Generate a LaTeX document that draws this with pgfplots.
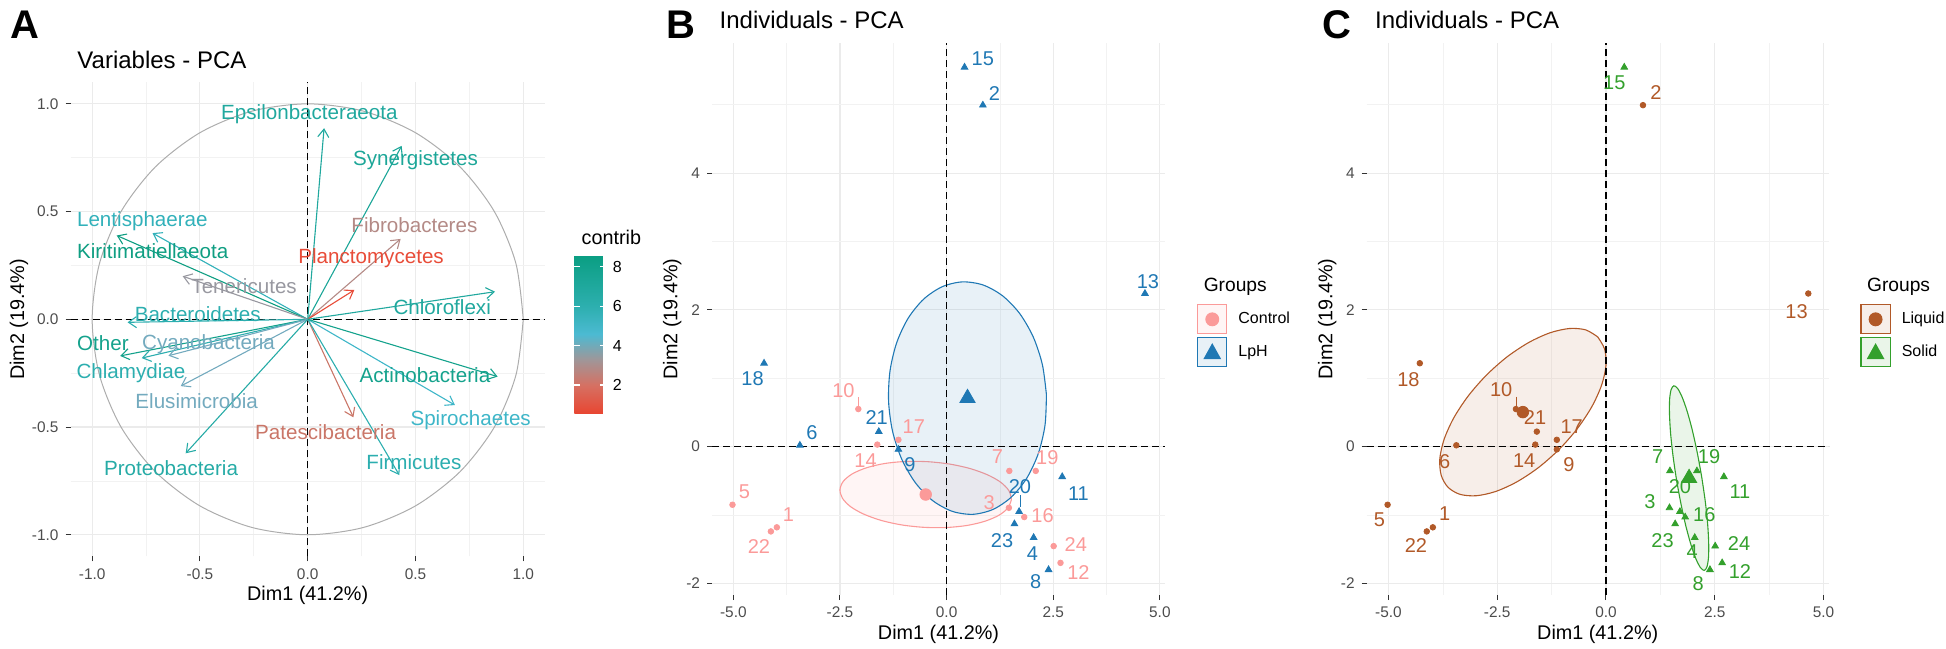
\documentclass[border=0pt]{standalone}
\usepackage{pgfplots}
\usepackage{pgfplotstable}
\pgfplotsset{compat=1.18}
\usepackage{fontspec}
\setmainfont{Liberation Sans}
\usetikzlibrary{arrows.meta}

\definecolor{ctrl}{HTML}{FB9A99}
\definecolor{lph}{HTML}{1F78B4}
\definecolor{liq}{HTML}{B15928}
\definecolor{sol}{HTML}{33A02C}
\definecolor{c85}{RGB}{15,158,130}
\definecolor{c78}{RGB}{20,162,140}
\definecolor{c70}{RGB}{28,166,152}
\definecolor{c66}{RGB}{32,168,158}
\definecolor{c62}{RGB}{38,171,166}
\definecolor{c59}{RGB}{44,174,175}
\definecolor{c56}{RGB}{50,177,186}
\definecolor{c52}{RGB}{62,182,200}
\definecolor{c43}{RGB}{115,170,190}
\definecolor{c36}{RGB}{152,152,160}
\definecolor{c28}{RGB}{180,138,134}
\definecolor{c22}{RGB}{202,118,104}
\definecolor{c08}{RGB}{232,76,56}

\newcommand\vl{\fontsize{10.3}{11}\selectfont}
\newcommand\pl{\fontsize{10}{11}\selectfont}

% Panel B / C individuals: x y lx ly lab
\pgfplotstableread{
x y lx ly lab
-2.07 0.55 -2.42 0.82 10
-1.625 0.03 -1.90 -0.21 14
-1.13 0.10 -0.77 0.29 17
-5.02 -0.85 -4.74 -0.66 5
-3.98 -1.18 -3.71 -0.99 1
-4.12 -1.24 -4.40 -1.455 22
1.47 -0.355 1.19 -0.146 7
2.09 -0.355 2.36 -0.165 19
1.46 -0.895 1.00 -0.82 3
1.82 -1.03 2.25 -1.01 16
2.51 -1.455 3.03 -1.435 24
2.67 -1.70 3.09 -1.84 12
}\ctrlB
\pgfplotstableread{
x y lx ly lab
-4.28 1.22 -4.55 0.99 18
-3.44 0.02 -3.16 0.21 6
-1.59 0.22 -1.64 0.42 21
-1.13 -0.04 -0.86 -0.26 9
1.70 -0.95 1.72 -0.58 20
1.59 -1.13 1.30 -1.38 23
2.04 -1.33 2.01 -1.57 4
2.39 -1.80 2.09 -1.98 8
2.71 -0.44 3.09 -0.68 11
0.42 5.55 0.85 5.67 15
0.85 4.995 1.12 5.17 2
4.65 2.24 4.72 2.42 13
}\lphB
\pgfplotstableread{
x y lx ly lab
0.85 4.995 1.15 5.18 2
4.65 2.24 4.38 1.97 13
-4.28 1.22 -4.54 0.98 18
-2.07 0.55 -2.41 0.83 10
-1.59 0.22 -1.63 0.42 21
-1.13 0.10 -0.79 0.29 17
-3.44 0.02 -3.71 -0.22 6
-1.625 0.03 -1.88 -0.20 14
-1.13 -0.04 -0.85 -0.27 9
-5.02 -0.85 -5.21 -1.07 5
-3.98 -1.18 -3.71 -0.98 1
-4.12 -1.24 -4.37 -1.45 22
}\liqC
\pgfplotstableread{
x y lx ly lab
0.42 5.55 0.19 5.32 15
1.47 -0.355 1.19 -0.15 7
2.09 -0.355 2.37 -0.15 19
1.70 -0.95 1.70 -0.58 20
2.71 -0.44 3.08 -0.66 11
1.46 -0.895 1.01 -0.81 3
1.82 -1.03 2.26 -0.99 16
1.59 -1.13 1.30 -1.37 23
2.04 -1.33 1.98 -1.53 4
2.51 -1.455 3.06 -1.41 24
2.67 -1.70 3.08 -1.83 12
2.39 -1.80 2.12 -2.00 8
}\solC

\pgfplotsset{
  ggbase/.style={
    scale only axis, anchor=south west, clip=false,
    axis line style={draw=none},
    tick align=outside, tick pos=left,
    major tick length=2.5pt, minor tick length=0pt,
    tick style={line width=0.5pt, color=black!80},
    grid=both,
    major grid style={line width=0.55pt, color=black!8},
    minor grid style={line width=0.35pt, color=black!5},
    tick label style={font=\fontsize{7.7}{8}\selectfont, text=black!70},
    label style={font=\fontsize{9.9}{11}\selectfont},
  },
  indiv/.style={
    ggbase,
    xmin=-5.5, xmax=5.12, ymin=-2.17, ymax=5.9,
    xtick={-5,-2.5,0,2.5,5}, xticklabels={-5.0,-2.5,0.0,2.5,5.0},
    ytick={-2,0,2,4}, yticklabels={-2,0,2,4},
    minor xtick={-3.75,-1.25,1.25,3.75}, minor ytick={-1,1,3,5},
    xlabel={Dim1 (41.2\%)}, ylabel={Dim2 (19.4\%)},
    legend style={draw=none, fill=none, inner sep=0pt, row sep=1.5pt,
      font=\fontsize{8}{9}\selectfont, nodes={inner xsep=5.5pt, inner ysep=0pt}},
    legend cell align=left,
  },
  zeroline/.style={black, line width=0.75pt, dash pattern=on 3.5pt off 2pt, forget plot},
  arr/.style={line width=0.55pt, -{Straight Barb[length=4pt,width=5.5pt]}},
  lbl/.style={forget plot, only marks, mark=none, nodes near coords,
    point meta=explicit symbolic, nodes near coords align=center,
    every node near coord/.append style={anchor=center, inner sep=0pt, font=\pl, text=#1}},
}

\begin{document}
\begin{tikzpicture}
\useasboundingbox (0,0) rectangle (973pt,324pt);

% ---------------- Panel A ----------------
\node[anchor=base west, font=\fontsize{20}{20}\selectfont\bfseries] at (1.8pt,304.85pt) {A};
\node[anchor=base west, font=\fontsize{12}{13}\selectfont] at (35.2pt,289.85pt) {Variables - PCA};
\node[anchor=base west, font=\fontsize{9.9}{11}\selectfont] at (287.3pt,201.5pt) {contrib};
\begin{axis}[ggbase,
  at={(35.3pt,45.85pt)}, width=237.1pt, height=237pt,
  xmin=-1.1, xmax=1.1, ymin=-1.1, ymax=1.1,
  xtick={-1,-0.5,0,0.5,1}, xticklabels={-1.0,-0.5,0.0,0.5,1.0},
  ytick={-1,-0.5,0,0.5,1}, yticklabels={-1.0,-0.5,0.0,0.5,1.0},
  minor xtick={-0.75,-0.25,0.25,0.75}, minor ytick={-0.75,-0.25,0.25,0.75},
  xlabel={Dim1 (41.2\%)}, ylabel={Dim2 (19.4\%)},
  xlabel style={at={(axis description cs:0.5,-0.0823)}, anchor=center},
  ylabel style={at={(axis description cs:-0.1088,0.5)}, anchor=center},
  colormap={contrib}{rgb255(0cm)=(232,70,50); rgb255(14cm)=(214,112,98); rgb255(27cm)=(160,150,152); rgb255(40cm)=(76,186,210); rgb255(54cm)=(45,175,175); rgb255(80cm)=(10,158,130)},
  colorbar, point meta min=0.56, point meta max=8.6,
  colorbar shift/.style={xshift=14.75pt, yshift=71.5pt},
  colorbar style={
    at={(parent axis.south east)}, anchor=south west,
    width=15.7pt, height=79.15pt,
    ytick={2,4,6,8}, yticklabels={2,4,6,8},
    axis line style={draw=none},
    tick align=inside, ytick pos=both, yticklabel pos=right,
    major tick length=3pt, tick style={white, line width=0.6pt},
    yticklabel style={font=\fontsize{8}{9}\selectfont, text=black},
  },
]
% unit circle
\addplot[black!32, line width=0.5pt, smooth] coordinates {(1,0) (0.966,0.259) (0.866,0.5) (0.707,0.707) (0.5,0.866) (0.259,0.966) (0,1) (-0.259,0.966) (-0.5,0.866) (-0.707,0.707) (-0.866,0.5) (-0.966,0.259) (-1,0) (-0.966,-0.259) (-0.866,-0.5) (-0.707,-0.707) (-0.5,-0.866) (-0.259,-0.966) (0,-1) (0.259,-0.966) (0.5,-0.866) (0.707,-0.707) (0.866,-0.5) (0.966,-0.259) (1,0)};
\addplot[zeroline] coordinates {(-1.1,0) (1.1,0)};
\addplot[zeroline] coordinates {(0,-1.1) (0,1.1)};
% arrows
\addplot[arr, c66] coordinates {(0,0) (0.076,0.887)};
\addplot[arr, c70] coordinates {(0,0) (0.436,0.805)};
\addplot[arr, c28] coordinates {(0,0) (0.431,0.373)};
\addplot[arr, c08] coordinates {(0,0) (0.216,0.136)};
\addplot[arr, c66] coordinates {(0,0) (0.869,0.128)};
\addplot[arr, c56] coordinates {(0,0) (-0.72,0.40)};
\addplot[arr, c85] coordinates {(0,0) (-0.886,0.389)};
\addplot[arr, c36] coordinates {(0,0) (-0.58,0.20)};
\addplot[arr, c59] coordinates {(0,0) (-0.836,-0.014)};
\addplot[arr, c78] coordinates {(0,0) (-0.87,-0.17)};
\addplot[arr, c59] coordinates {(0,0) (-0.77,-0.18)};
\addplot[arr, c43] coordinates {(0,0) (-0.646,-0.169)};
\addplot[arr, c43] coordinates {(0,0) (-0.589,-0.31)};
\addplot[arr, c62] coordinates {(0,0) (-0.566,-0.622)};
\addplot[arr, c22] coordinates {(0,0) (0.212,-0.455)};
\addplot[arr, c59] coordinates {(0,0) (0.425,-0.723)};
\addplot[arr, c52] coordinates {(0,0) (0.683,-0.398)};
\addplot[arr, c78] coordinates {(0,0) (0.881,-0.266)};
% labels
\node[text=c66, font=\vl] at (axis cs:0.008,0.952) {Epsilonbacteraeota};
\node[text=c70, font=\vl] at (axis cs:0.50,0.74) {Synergistetes};
\node[text=c28, font=\vl] at (axis cs:0.495,0.438) {Fibrobacteres};
\node[text=c08, font=\vl] at (axis cs:0.294,0.286) {Planctomycetes};
\node[text=c36, font=\vl] at (axis cs:-0.295,0.152) {Tenericutes};
\node[text=c66, font=\vl] at (axis cs:0.624,0.056) {Chloroflexi};
\node[text=c56, font=\vl] at (axis cs:-0.767,0.455) {Lentisphaerae};
\node[text=c85, font=\vl] at (axis cs:-0.719,0.317) {Kiritimatiellaeota};
\node[text=c59, font=\vl] at (axis cs:-0.51,0.025) {Bacteroidetes};
\node[text=c78, font=\vl] at (axis cs:-0.95,-0.111) {Other};
\node[text=c43, font=\vl] at (axis cs:-0.46,-0.116) {Cyanobacteria};
\node[text=c59, font=\vl] at (axis cs:-0.82,-0.25) {Chlamydiae};
\node[text=c43, font=\vl] at (axis cs:-0.515,-0.382) {Elusimicrobia};
\node[text=c62, font=\vl] at (axis cs:-0.634,-0.692) {Proteobacteria};
\node[text=c22, font=\vl] at (axis cs:0.083,-0.525) {Patescibacteria};
\node[text=c59, font=\vl] at (axis cs:0.493,-0.661) {Firmicutes};
\node[text=c52, font=\vl] at (axis cs:0.756,-0.467) {Spirochaetes};
\node[text=c78, font=\vl] at (axis cs:0.544,-0.259) {Actinobacteria};
\end{axis}

% ---------------- Panel B ----------------
\node[anchor=base west, font=\fontsize{20}{20}\selectfont\bfseries] at (329.5pt,304.85pt) {B};
\node[anchor=base west, font=\fontsize{12}{13}\selectfont] at (356.3pt,309.85pt) {Individuals - PCA};
\node[anchor=base west, font=\fontsize{9.6}{11}\selectfont] at (598.35pt,178.15pt) {Groups};
\begin{axis}[indiv,
  at={(356pt,26.5pt)}, width=226.5pt, height=275.85pt,
  xlabel style={at={(axis description cs:0.5,-0.0712)}, anchor=center},
  ylabel style={at={(axis description cs:-0.0879,0.5)}, anchor=center},
  legend style={at={(axis description cs:1.070,0.5275)}, anchor=north west},
]
\addplot[draw=ctrl, line width=0.55pt, fill=ctrl, fill opacity=0.1, draw opacity=1, smooth,
  legend image code/.code={\draw[draw=ctrl, line width=0.55pt, fill=ctrl, fill opacity=0.1, draw opacity=1] (0pt,-7.2pt) rectangle (14.6pt,7.2pt); \fill[ctrl, fill opacity=1] (7.3pt,0pt) circle (3.2pt);}]
  coordinates {(1.52,-0.773) (1.464,-0.647) (1.274,-0.523) (0.963,-0.413) (0.554,-0.321) (0.073,-0.255) (-0.445,-0.22) (-0.967,-0.217) (-1.456,-0.247) (-1.879,-0.309) (-2.208,-0.397) (-2.42,-0.505) (-2.50,-0.627) (-2.444,-0.753) (-2.254,-0.877) (-1.943,-0.987) (-1.534,-1.079) (-1.053,-1.145) (-0.535,-1.18) (-0.013,-1.183) (0.476,-1.153) (0.899,-1.091) (1.228,-1.003) (1.44,-0.895) (1.52,-0.773)};
\addlegendentry{Control}
\addplot[draw=lph, line width=0.55pt, fill=lph, fill opacity=0.1, draw opacity=1, smooth,
  legend image code/.code={\draw[draw=lph, line width=0.55pt, fill=lph, fill opacity=0.1, draw opacity=1] (0pt,-7.2pt) rectangle (14.6pt,7.2pt); \fill[lph, fill opacity=1] (7.3pt,4pt) -- (3.3pt,-3.2pt) -- (11.3pt,-3.2pt) -- cycle;}]
  coordinates {(2.34,0.76) (2.246,1.198) (2.032,1.603) (1.713,1.947) (1.311,2.207) (0.853,2.365) (0.37,2.41) (-0.105,2.339) (-0.539,2.157) (-0.903,1.877) (-1.172,1.517) (-1.328,1.102) (-1.36,0.66) (-1.266,0.222) (-1.052,-0.183) (-0.733,-0.527) (-0.331,-0.787) (0.127,-0.945) (0.61,-0.99) (1.085,-0.919) (1.519,-0.737) (1.883,-0.457) (2.152,-0.097) (2.308,0.318) (2.34,0.76)};
\addlegendentry{LpH}
\addplot[zeroline] coordinates {(-5.5,0) (5.12,0)};
\addplot[zeroline] coordinates {(0,-2.17) (0,5.9)};
\addplot[forget plot, ctrl, line width=0.4pt] coordinates {(-2.07,0.72) (-2.07,0.60)};
\addplot[forget plot, lph, line width=0.4pt] coordinates {(1.72,-0.71) (1.72,-0.89)};
\addplot[forget plot, only marks, mark=*, mark size=1.4pt, color=ctrl] table[x=x,y=y] {\ctrlB};
\addplot[forget plot, only marks, mark=triangle*, mark size=1.9pt, color=lph] table[x=x,y=y] {\lphB};
\addplot[forget plot, only marks, mark=*, mark size=2.9pt, color=ctrl] coordinates {(-0.49,-0.70)};
\addplot[forget plot, only marks, mark=triangle*, mark size=4.4pt, color=lph] coordinates {(0.49,0.71)};
\addplot[lbl=ctrl] table[x=lx,y=ly,meta=lab] {\ctrlB};
\addplot[lbl=lph] table[x=lx,y=ly,meta=lab] {\lphB};
\end{axis}

% ---------------- Panel C ----------------
\node[anchor=base west, font=\fontsize{20}{20}\selectfont\bfseries] at (657.5pt,304.85pt) {C};
\node[anchor=base west, font=\fontsize{12}{13}\selectfont] at (684pt,309.85pt) {Individuals - PCA};
\node[anchor=base west, font=\fontsize{9.6}{11}\selectfont] at (930pt,178.15pt) {Groups};
\begin{axis}[indiv,
  at={(683.35pt,26.5pt)}, width=231pt, height=275.85pt,
  xlabel style={at={(axis description cs:0.5,-0.0712)}, anchor=center},
  ylabel style={at={(axis description cs:-0.0853,0.5)}, anchor=center},
  legend style={at={(axis description cs:1.0678,0.5275)}, anchor=north west},
]
\addplot[draw=liq, line width=0.55pt, fill=liq, fill opacity=0.1, draw opacity=1, smooth,
  legend image code/.code={\draw[draw=liq, line width=0.55pt, fill=liq, fill opacity=0.1, draw opacity=1] (0pt,-7.2pt) rectangle (14.6pt,7.2pt); \fill[liq, fill opacity=1] (7.3pt,0pt) circle (3.2pt);}]
  coordinates {(-0.19,1.605) (-0.032,1.428) (0.0,1.188) (-0.10,0.901) (-0.323,0.587) (-0.654,0.268) (-1.07,-0.035) (-1.544,-0.302) (-2.043,-0.513) (-2.532,-0.655) (-2.98,-0.718) (-3.354,-0.698) (-3.63,-0.595) (-3.788,-0.418) (-3.82,-0.178) (-3.72,0.109) (-3.497,0.423) (-3.166,0.742) (-2.75,1.045) (-2.276,1.312) (-1.777,1.523) (-1.288,1.665) (-0.84,1.728) (-0.466,1.708) (-0.19,1.605)};
\addlegendentry{Liquid}
\addplot[draw=sol, line width=0.55pt, fill=sol, fill opacity=0.1, draw opacity=1, smooth,
  legend image code/.code={\draw[draw=sol, line width=0.55pt, fill=sol, fill opacity=0.1, draw opacity=1] (0pt,-7.2pt) rectangle (14.6pt,7.2pt); \fill[sol, fill opacity=1] (7.3pt,4pt) -- (3.3pt,-3.2pt) -- (11.3pt,-3.2pt) -- cycle;}]
  coordinates {(2.197,-0.43) (2.096,-0.082) (1.984,0.241) (1.866,0.516) (1.751,0.724) (1.646,0.852) (1.56,0.89) (1.498,0.836) (1.463,0.694) (1.46,0.474) (1.486,0.189) (1.542,-0.14) (1.623,-0.49) (1.724,-0.838) (1.836,-1.161) (1.954,-1.436) (2.069,-1.644) (2.174,-1.772) (2.26,-1.81) (2.322,-1.756) (2.357,-1.614) (2.36,-1.394) (2.334,-1.109) (2.278,-0.78) (2.197,-0.43)};
\addlegendentry{Solid}
\addplot[zeroline] coordinates {(-5.5,0) (5.12,0)};
\addplot[zeroline] coordinates {(0,-2.17) (0,5.9)};
\addplot[forget plot, liq, line width=0.4pt] coordinates {(-2.07,0.73) (-2.07,0.60)};
\addplot[forget plot, only marks, mark=*, mark size=1.4pt, color=liq] table[x=x,y=y] {\liqC};
\addplot[forget plot, only marks, mark=triangle*, mark size=1.9pt, color=sol] table[x=x,y=y] {\solC};
\addplot[forget plot, only marks, mark=*, mark size=2.9pt, color=liq] coordinates {(-1.91,0.505)};
\addplot[forget plot, only marks, mark=triangle*, mark size=4.4pt, color=sol] coordinates {(1.91,-0.46)};
\addplot[lbl=liq] table[x=lx,y=ly,meta=lab] {\liqC};
\addplot[lbl=sol] table[x=lx,y=ly,meta=lab] {\solC};
\end{axis}
\end{tikzpicture}
\end{document}
